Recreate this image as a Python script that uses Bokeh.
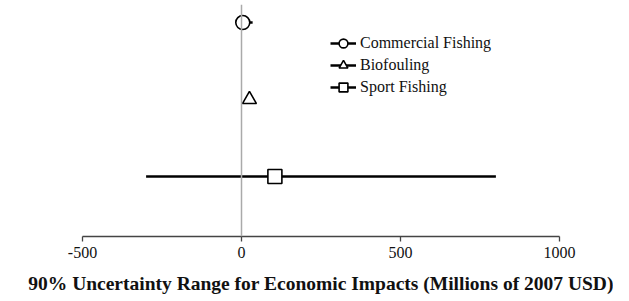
from bokeh.plotting import figure
from bokeh.models import ColumnDataSource, Span, Legend, LegendItem, FixedTicker
from bokeh.embed import file_html
from bokeh.resources import INLINE

categories = ["Commercial Fishing", "Biofouling", "Sport Fishing"]
positions = [3, 2, 1]
mid_values = [4, 25, 105]
low_values = [-5, 12, -300]
high_values = [35, 38, 800]
markers = ["circle", "triangle", "square"]
x_ticks = [-500, 0, 500, 1000]
x_tick_labels = ["-500", "0", "500", "1000"]
x_title = "90% Uncertainty Range for Economic Impacts (Millions of 2007 USD)"

SERIF = "Liberation Serif"

p = figure(width=613, height=298, output_backend="svg", toolbar_location=None,
           x_range=(-500, 1000), y_range=(0.221, 3.234),
           min_border_left=82, min_border_right=54, min_border_top=4, min_border_bottom=62)
p.frame_width = 477
p.frame_height = 232

p.outline_line_color = None
p.xgrid.visible = False
p.ygrid.visible = False
p.yaxis.visible = False

ax = p.xaxis[0]
ax.ticker = FixedTicker(ticks=x_ticks)
ax.major_label_overrides = {t: s for t, s in zip(x_ticks, x_tick_labels)}
ax.minor_tick_line_color = None
ax.major_tick_in = 0
ax.major_tick_out = 5
ax.axis_line_color = "#444444"
ax.major_tick_line_color = "#444444"
ax.axis_line_width = 1.3
ax.major_tick_line_width = 1.3
ax.major_label_text_font = SERIF
ax.major_label_text_font_size = "16px"
ax.major_label_text_color = "#111111"
ax.major_label_standoff = 5
ax.axis_label = x_title
ax.axis_label_text_font = SERIF
ax.axis_label_text_font_style = "bold"
ax.axis_label_text_font_size = "19.5px"
ax.axis_label_text_color = "#111111"
ax.axis_label_standoff = 12

p.add_layout(Span(location=0, dimension="height", line_color="#aaaaaa", line_width=1.5))

items = []
for name, y, m, lo, hi, mk in zip(categories, positions, mid_values, low_values, high_values, markers):
    src = ColumnDataSource(dict(y=[y], x=[m], lo=[lo], hi=[hi]))
    seg = p.segment(x0="lo", x1="hi", y0="y", y1="y", source=src, line_color="black", line_width=2.5)
    sc = p.scatter(x="x", y="y", source=src, marker=mk, size=14, fill_color="white",
                   line_color="black", line_width=1.6)
    items.append(LegendItem(label=name, renderers=[seg, sc]))

legend = Legend(items=items, location=(248, 138), padding=0, margin=0,
                border_line_color=None, background_fill_alpha=0,
                label_text_font=SERIF, label_text_font_size="16px", label_text_color="#111111",
                glyph_width=26, glyph_height=22, label_height=22, spacing=0,
                label_standoff=4)
p.add_layout(legend, "center")

open("out.html", "w").write(file_html(p, INLINE))
